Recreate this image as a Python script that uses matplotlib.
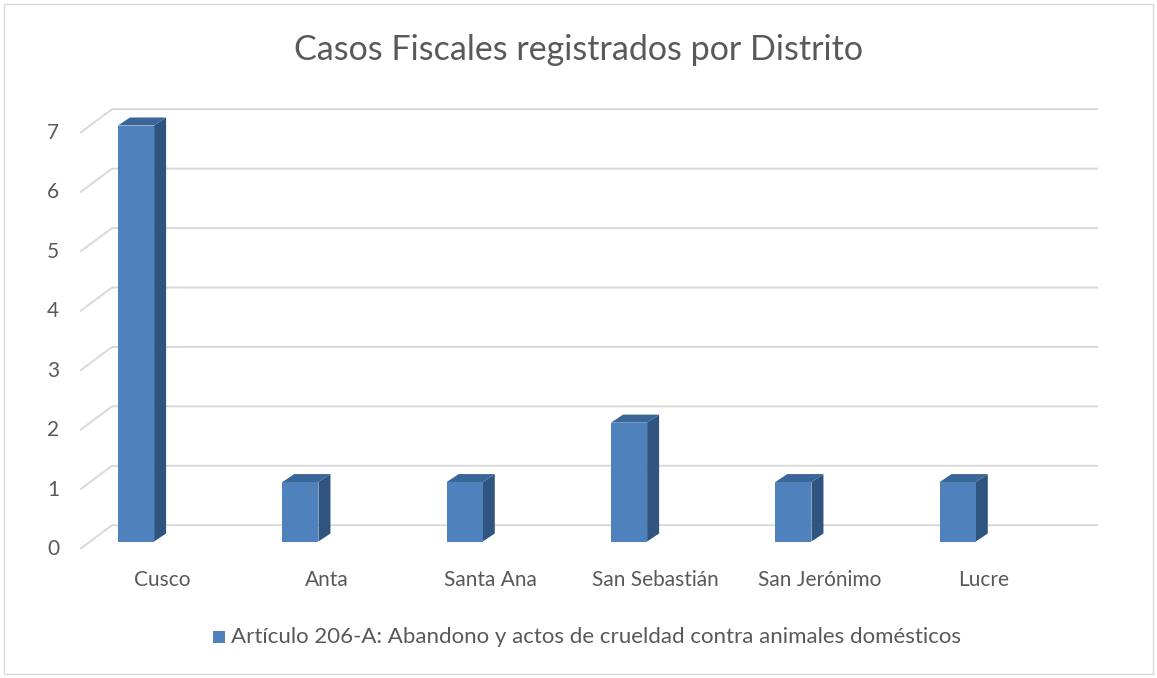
import matplotlib.pyplot as plt
from matplotlib.patches import Polygon, Rectangle
from matplotlib.transforms import ScaledTranslation

plt.rcParams['font.family'] = ['Lato', 'DejaVu Sans']

# data
distritos = ['Cusco', 'Anta', 'Santa Ana', 'San Sebastián', 'San Jerónimo', 'Lucre']
casos = [7, 1, 1, 2, 1, 1]
serie = 'Artículo 206-A: Abandono y actos de crueldad contra animales domésticos'
titulo = 'Casos Fiscales registrados por Distrito'
y_ticks = [0, 1, 2, 3, 4, 5, 6, 7]

c_front = '#4f81bd'
c_side = '#2f5480'
c_top = '#3b6699'
c_grid = '#d9d9d9'
c_text = '#595959'

W, H = 1157, 678
fig = plt.figure(figsize=(W / 100, H / 100), dpi=100)

# axes = front plane of the 3D box
ax_l, ax_r, ax_b = 80, 1066, 549
px_unit = 59.43
ymax = 7.6
ax = fig.add_axes([ax_l / W, (H - ax_b) / H, (ax_r - ax_l) / W, ymax * px_unit / H])
ax.set_xlim(-0.5, len(distritos) - 0.5)
ax.set_ylim(0, ymax)
ax.axis('off')

# wall depth (data units)
wdx, wdy = 0.195, 0.40
shift = ax.transData + ScaledTranslation(-21 / 100, 0, fig.dpi_scale_trans)
for v in y_ticks:
    ax.plot([-0.5, -0.5 + wdx, len(distritos) - 0.5 + wdx], [v, v + wdy, v + wdy],
            color=c_grid, lw=1.4, solid_capstyle='butt', clip_on=False, zorder=1)
    ax.text(-0.5, v, str(v), ha='right', va='center', fontsize=15, color=c_text, transform=shift)

# bars (oblique 3D)
bw, off, base = 0.22, -0.269, 0.126
bdx, bdy = 0.073, 0.135
for i, v in enumerate(casos):
    x0 = i + off
    x1 = x0 + bw
    y0, y1 = base, base + v
    ax.add_patch(Polygon([(x1, y0), (x1 + bdx, y0 + bdy), (x1 + bdx, y1 + bdy), (x1, y1)],
                         closed=True, facecolor=c_side, edgecolor='none', zorder=3, clip_on=False))
    ax.add_patch(Polygon([(x0, y1), (x0 + bdx, y1 + bdy), (x1 + bdx, y1 + bdy), (x1, y1)],
                         closed=True, facecolor=c_top, edgecolor='none', zorder=3, clip_on=False))
    ax.add_patch(Rectangle((x0, y0), bw, v, facecolor=c_front, edgecolor='none', zorder=4, clip_on=False))
    ax.text(i, -0.52, distritos[i], ha='center', va='center', fontsize=15, color=c_text, clip_on=False)

fig.text(0.5, 1 - 50 / H, titulo, ha='center', va='center', fontsize=24.5, color=c_text)

# legend
lx, ly = 213, 637
fig.patches.append(Rectangle((lx / W, (H - ly - 6) / H), 12 / W, 12 / H, transform=fig.transFigure,
                             facecolor=c_front, edgecolor='none'))
fig.text((lx + 18) / W, 1 - ly / H, serie, ha='left', va='center', fontsize=16, color=c_text)

# chart border
fig.patches.append(Rectangle((4 / W, 4 / H), (W - 8) / W, (H - 8) / H, transform=fig.transFigure,
                             facecolor='none', edgecolor='#d9d9d9', lw=1))

fig.savefig('out.png', dpi=100)
